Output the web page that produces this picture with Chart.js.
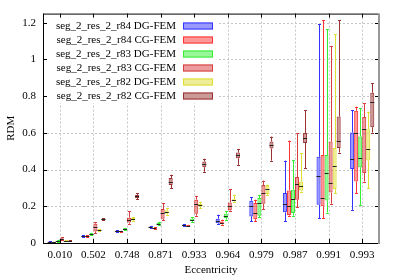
<!DOCTYPE html>
<html>
<head>
<meta charset="utf-8">
<script src="https://cdn.jsdelivr.net/npm/chart.js@4.4.1/dist/chart.umd.min.js"></script>
<style>
  html, body { margin: 0; padding: 0; background: #fff; }
</style>
</head>
<body>
<canvas id="grafico" width="399" height="279"></canvas>
<script>
const categorias = ['0.010', '0.502', '0.748', '0.871', '0.933', '0.964', '0.979', '0.987', '0.991', '0.993'];
const ticksY = [0, 0.2, 0.4, 0.6, 0.8, 1, 1.2];

// cada caja: [min, q1, mediana, q3, max]
const r84DG = [
  [0.002, 0.003, 0.005, 0.008, 0.010], [0.034, 0.036, 0.038, 0.041, 0.043], [0.061, 0.063, 0.065, 0.067, 0.069],
  [0.082, 0.084, 0.087, 0.090, 0.093], [0.095, 0.097, 0.099, 0.101, 0.103], [0.105, 0.108, 0.118, 0.132, 0.154],
  [0.118, 0.145, 0.200, 0.230, 0.250], [0.118, 0.167, 0.214, 0.272, 0.449], [0.136, 0.208, 0.366, 0.470, 1.193],
  [0.181, 0.403, 0.459, 0.602, 0.725]
];
const r84CG = [
  [0.002, 0.003, 0.004, 0.006, 0.007], [0.033, 0.035, 0.037, 0.039, 0.041], [0.059, 0.061, 0.063, 0.065, 0.066],
  [0.076, 0.078, 0.080, 0.083, 0.085], [0.091, 0.093, 0.095, 0.097, 0.099], [0.100, 0.105, 0.110, 0.117, 0.127],
  [0.118, 0.130, 0.163, 0.218, 0.236], [0.149, 0.152, 0.200, 0.286, 0.558], [0.134, 0.200, 0.245, 0.480, 1.215],
  [0.272, 0.335, 0.598, 0.720, 0.743]
];
const r83DG = [
  [0.004, 0.006, 0.009, 0.011, 0.017], [0.043, 0.046, 0.049, 0.052, 0.055], [0.071, 0.074, 0.077, 0.080, 0.083],
  [0.098, 0.101, 0.105, 0.109, 0.112], [0.115, 0.120, 0.127, 0.133, 0.140], [0.127, 0.136, 0.149, 0.160, 0.172],
  [0.141, 0.149, 0.218, 0.245, 0.263], [0.149, 0.163, 0.239, 0.290, 0.453], [0.166, 0.232, 0.379, 0.480, 1.165],
  [0.208, 0.413, 0.462, 0.580, 0.734]
];
const r83CG = [
  [0.019, 0.021, 0.023, 0.026, 0.030], [0.054, 0.063, 0.085, 0.105, 0.112], [0.105, 0.112, 0.125, 0.138, 0.172],
  [0.123, 0.132, 0.163, 0.185, 0.218], [0.149, 0.160, 0.214, 0.236, 0.257], [0.172, 0.178, 0.200, 0.221, 0.294],
  [0.185, 0.214, 0.275, 0.316, 0.340], [0.196, 0.236, 0.323, 0.359, 0.598], [0.214, 0.275, 0.328, 0.553, 1.074],
  [0.335, 0.381, 0.620, 0.686, 0.762]
];
const r82DG = [
  [0.010, 0.011, 0.012, 0.013, 0.014], [0.068, 0.070, 0.072, 0.074, 0.076], [0.118, 0.123, 0.130, 0.136, 0.140],
  [0.155, 0.160, 0.170, 0.178, 0.190], [0.188, 0.197, 0.207, 0.213, 0.225], [0.221, 0.228, 0.233, 0.238, 0.263],
  [0.262, 0.267, 0.294, 0.312, 0.318], [0.280, 0.286, 0.313, 0.335, 0.490], [0.272, 0.294, 0.420, 0.517, 1.139],
  [0.299, 0.449, 0.511, 0.620, 0.716]
];
const r82CG = [
  [0.010, 0.011, 0.012, 0.013, 0.014], [0.128, 0.130, 0.132, 0.134, 0.136], [0.240, 0.245, 0.254, 0.262, 0.270],
  [0.297, 0.316, 0.335, 0.354, 0.372], [0.388, 0.413, 0.430, 0.444, 0.459], [0.426, 0.462, 0.479, 0.493, 0.511],
  [0.449, 0.515, 0.535, 0.553, 0.580], [0.408, 0.545, 0.571, 0.600, 0.725], [0.493, 0.517, 0.557, 0.689, 1.213],
  [0.602, 0.631, 0.770, 0.819, 0.870]
];

const series = [
  { label: 'seg_2_res_2_r84 DG-FEM', datos: r84DG, color: '51,51,255' },
  { label: 'seg_2_res_2_r84 CG-FEM', datos: r84CG, color: '255,51,51' },
  { label: 'seg_2_res_2_r83 DG-FEM', datos: r83DG, color: '51,240,51' },
  { label: 'seg_2_res_2_r83 CG-FEM', datos: r83CG, color: '216,60,60' },
  { label: 'seg_2_res_2_r82 DG-FEM', datos: r82DG, color: '222,222,51' },
  { label: 'seg_2_res_2_r82 CG-FEM', datos: r82CG, color: '153,51,51' }
];

const familia = '"Liberation Serif", "Times New Roman", serif';
const fuente = '11px ' + familia;
Chart.defaults.font.family = familia;

const cajas = {
  id: 'cajas',
  beforeDatasetsDraw(chart) {
    const { ctx, chartArea: a, scales: { x, y } } = chart;
    ctx.save();
    // rejilla punteada
    ctx.strokeStyle = '#c6c6c6';
    ctx.lineWidth = 1;
    ctx.setLineDash([2, 2]);
    ctx.beginPath();
    categorias.forEach((c, i) => {
      const px = Math.round(x.getPixelForValue(i)) + 0.5;
      ctx.moveTo(px, a.top); ctx.lineTo(px, a.bottom);
    });
    ticksY.forEach(v => {
      if (v === 0) return;
      const py = Math.round(y.getPixelForValue(v)) + 0.5;
      ctx.moveTo(a.left, py); ctx.lineTo(a.right, py);
    });
    ctx.stroke();
    ctx.setLineDash([]);
    // bigotes
    series.forEach((s, d) => {
      const meta = chart.getDatasetMeta(d);
      ctx.strokeStyle = 'rgb(' + s.color + ')';
      meta.data.forEach((bar, i) => {
        const [mn, q1, med, q3, mx] = s.datos[i];
        const cx = Math.round(bar.x) + 0.5;
        ctx.beginPath();
        ctx.moveTo(cx, y.getPixelForValue(q3)); ctx.lineTo(cx, y.getPixelForValue(mx));
        ctx.moveTo(cx, y.getPixelForValue(q1)); ctx.lineTo(cx, y.getPixelForValue(mn));
        const yt = Math.round(y.getPixelForValue(mx)) + 0.5;
        const yb = Math.round(y.getPixelForValue(mn)) + 0.5;
        ctx.moveTo(cx - 1.5, yt); ctx.lineTo(cx + 1.5, yt);
        ctx.moveTo(cx - 1.5, yb); ctx.lineTo(cx + 1.5, yb);
        ctx.stroke();
      });
    });
    ctx.restore();
  },
  afterDatasetsDraw(chart) {
    const { ctx, chartArea: a, scales: { y } } = chart;
    ctx.save();
    // medianas
    ctx.strokeStyle = '#222';
    ctx.lineWidth = 1;
    series.forEach((s, d) => {
      chart.getDatasetMeta(d).data.forEach((bar, i) => {
        const py = Math.round(y.getPixelForValue(s.datos[i][2])) + 0.5;
        ctx.beginPath();
        ctx.moveTo(bar.x - bar.width / 2, py); ctx.lineTo(bar.x + bar.width / 2, py);
        ctx.stroke();
      });
    });
    // leyenda
    ctx.fillStyle = '#fff';
    ctx.fillRect(a.left + 1, a.top + 1, 218 - a.left, 102 - a.top);
    ctx.font = fuente;
    ctx.textAlign = 'right';
    ctx.textBaseline = 'middle';
    series.forEach((s, i) => {
      const fy = 26 + 14 * i;
      ctx.fillStyle = '#000';
      ctx.fillText(s.label, 176, fy);
      ctx.fillStyle = 'rgba(' + s.color + ',0.5)';
      ctx.fillRect(183, fy - 3.5, 30, 7);
      ctx.strokeStyle = 'rgb(' + s.color + ')';
      ctx.strokeRect(183.5, fy - 3, 29, 6);
    });
    ctx.restore();
  },
  afterDraw(chart) {
    const { ctx, chartArea: a, scales: { x, y } } = chart;
    ctx.save();
    ctx.strokeStyle = '#000';
    ctx.lineWidth = 1;
    ctx.beginPath();
    ctx.moveTo(a.left + 0.5, a.top); ctx.lineTo(a.left + 0.5, a.bottom + 0.5);
    ctx.lineTo(a.right, a.bottom + 0.5);
    ctx.moveTo(a.left, a.top + 0.5); ctx.lineTo(a.right, a.top + 0.5);
    ticksY.forEach(v => {
      const py = Math.round(y.getPixelForValue(v)) + 0.5;
      ctx.moveTo(a.left, py); ctx.lineTo(a.left + 4, py);
      ctx.moveTo(a.right - 4, py); ctx.lineTo(a.right, py);
    });
    categorias.forEach((c, i) => {
      const px = Math.round(x.getPixelForValue(i)) + 0.5;
      ctx.moveTo(px, a.bottom); ctx.lineTo(px, a.bottom - 4);
      ctx.moveTo(px, a.top); ctx.lineTo(px, a.top + 4);
    });
    ctx.stroke();
    ctx.strokeStyle = '#999';
    ctx.lineWidth = 2;
    ctx.beginPath();
    ctx.moveTo(a.right, a.top); ctx.lineTo(a.right, a.bottom + 1);
    ctx.stroke();
    ctx.restore();
  }
};

new Chart(document.getElementById('grafico'), {
  type: 'bar',
  data: {
    labels: categorias,
    datasets: series.map(s => ({
      label: s.label,
      data: s.datos.map(b => [b[1], b[3]]),
      backgroundColor: 'rgba(' + s.color + ',0.5)',
      borderColor: 'rgb(' + s.color + ')',
      borderWidth: 1,
      borderSkipped: false,
      categoryPercentage: 0.72,
      barPercentage: 1
    }))
  },
  options: {
    responsive: false,
    animation: false,
    devicePixelRatio: 1,
    layout: { padding: { top: 13, right: 20, bottom: 0, left: 0 } },
    plugins: { legend: { display: false }, tooltip: { enabled: false } },
    scales: {
      x: {
        grid: { display: false, drawTicks: false },
        border: { display: false },
        ticks: { color: '#000', font: { size: 11 }, padding: 6, maxRotation: 0, autoSkip: false },
        title: { display: true, text: 'Eccentricity', color: '#000', font: { size: 11 }, padding: { top: 0, bottom: 2 } },
        afterFit(s) { s.height = 36; }
      },
      y: {
        min: 0,
        max: 1.25,
        afterBuildTicks(s) { s.ticks = ticksY.map(v => ({ value: v })); },
        grid: { display: false, drawTicks: false },
        border: { display: false },
        ticks: { color: '#000', font: { size: 11 }, padding: 7, callback: v => String(v) },
        title: { display: true, text: 'RDM', color: '#000', font: { size: 11 }, padding: { top: 5, bottom: 0 } },
        afterFit(s) { s.width = 43; }
      }
    }
  },
  plugins: [cajas]
});
</script>
</body>
</html>
